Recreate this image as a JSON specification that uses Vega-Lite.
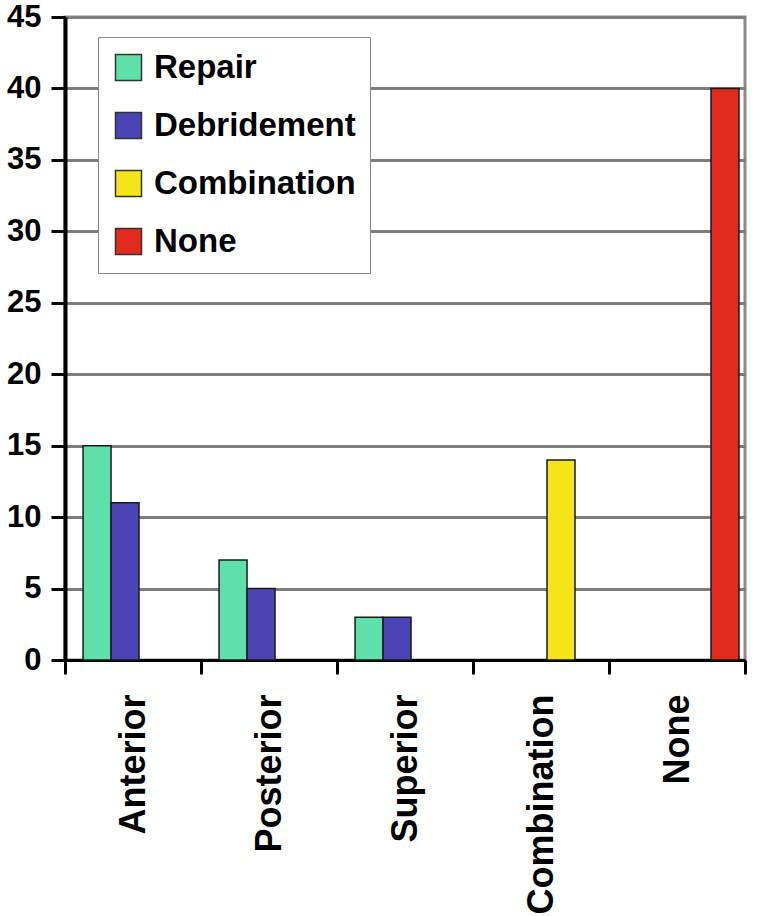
{
  "$schema": "https://vega.github.io/schema/vega-lite/v6.json",
  "width": 680,
  "height": 643,
  "autosize": {"type": "none"},
  "padding": {"left": 65, "top": 17, "right": 22, "bottom": 256},
  "background": "white",
  "config": {
    "font": "Liberation Sans",
    "view": {"stroke": "#8a8a8a", "strokeWidth": 3}
  },
  "data": {
    "values": [
      {"location": "Anterior", "treatment": "Repair", "count": 15},
      {"location": "Anterior", "treatment": "Debridement", "count": 11},
      {"location": "Posterior", "treatment": "Repair", "count": 7},
      {"location": "Posterior", "treatment": "Debridement", "count": 5},
      {"location": "Superior", "treatment": "Repair", "count": 3},
      {"location": "Superior", "treatment": "Debridement", "count": 3},
      {"location": "Combination", "treatment": "Combination", "count": 14},
      {"location": "None", "treatment": "None", "count": 40}
    ]
  },
  "mark": {"type": "bar", "stroke": "#1a1a1a", "strokeWidth": 1.5},
  "encoding": {
    "x": {
      "field": "location",
      "type": "nominal",
      "sort": ["Anterior", "Posterior", "Superior", "Combination", "None"],
      "scale": {"paddingInner": 0, "paddingOuter": 0},
      "axis": {
        "title": null,
        "labelAngle": -90,
        "labelAlign": "right",
        "labelBaseline": "middle",
        "labelFontSize": 36,
        "labelFontWeight": "bold",
        "labelColor": "black",
        "labelPadding": 20,
        "labelLimit": 400,
        "tickBand": "extent",
        "tickSize": 14,
        "tickWidth": 3,
        "tickColor": "black",
        "domainColor": "black",
        "domainWidth": 3,
        "grid": false
      }
    },
    "xOffset": {
      "field": "treatment",
      "type": "nominal",
      "scale": {
        "domain": ["Repair", "Debridement", "Combination", "None"],
        "paddingInner": 0,
        "paddingOuter": 0.43,
        "align": 0.75
      }
    },
    "y": {
      "field": "count",
      "type": "quantitative",
      "scale": {"domain": [0, 45], "nice": false},
      "axis": {
        "title": null,
        "values": [0, 5, 10, 15, 20, 25, 30, 35, 40, 45],
        "labelFontSize": 31,
        "labelFontWeight": "bold",
        "labelColor": "black",
        "labelPadding": 10,
        "tickSize": 14,
        "tickWidth": 3,
        "tickColor": "black",
        "domainColor": "black",
        "domainWidth": 4,
        "grid": true,
        "gridColor": "#7d7d7d",
        "gridWidth": 3
      }
    },
    "color": {
      "field": "treatment",
      "type": "nominal",
      "scale": {
        "domain": ["Repair", "Debridement", "Combination", "None"],
        "range": ["#5fe0aa", "#4b44b5", "#f4e41c", "#e02a1c"]
      },
      "legend": {
        "title": null,
        "orient": "none",
        "legendX": 33,
        "legendY": 20,
        "symbolType": "square",
        "symbolSize": 676,
        "symbolStrokeColor": "#333333",
        "symbolStrokeWidth": 1.5,
        "symbolOpacity": 1,
        "labelFontSize": 33,
        "labelFontWeight": "bold",
        "labelColor": "black",
        "labelOffset": 9,
        "rowPadding": 24,
        "padding": 14,
        "strokeColor": "#8a8a8a",
        "fillColor": "white",
        "labelLimit": 400
      }
    }
  }
}
